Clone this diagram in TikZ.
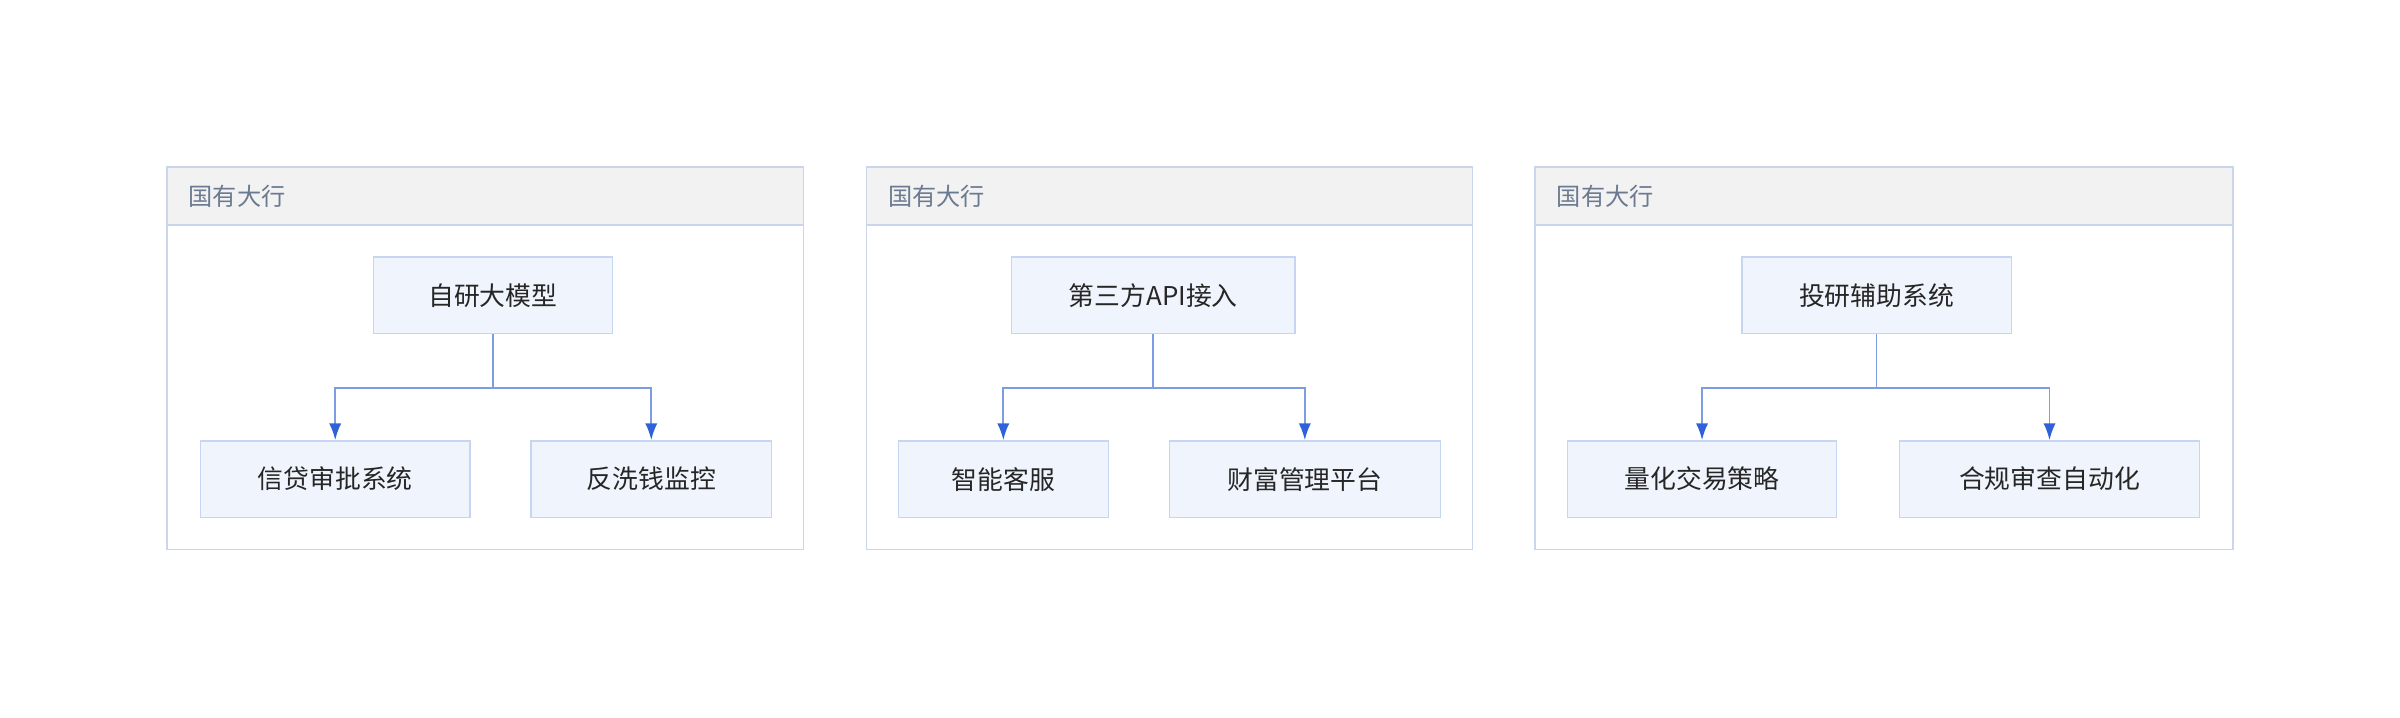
\documentclass[tikz,border=0pt]{standalone}
\usepackage{fontspec}
\setmainfont{Noto Sans CJK SC}
\usetikzlibrary{arrows.meta}
\definecolor{nodefill}{HTML}{F0F5FD}
\definecolor{nodeline}{HTML}{C6D6F2}
\definecolor{frameline}{HTML}{C9D6EC}
\definecolor{headfill}{HTML}{F2F2F2}
\definecolor{linkcol}{HTML}{7C9DE2}
\definecolor{tipcol}{HTML}{2F62D8}
\definecolor{headtext}{HTML}{6B7A90}
\begin{document}
\begin{tikzpicture}[
  x=0.2mm,y=-0.2mm,
  box/.style={rectangle,draw=nodeline,fill=nodefill,line width=0.5pt,minimum height=10mm,inner sep=0pt,font=\fontsize{9.6}{11}\selectfont,text=black!85},
  frame/.style={draw=frameline,line width=0.6pt},
  head/.style={draw=frameline,fill=headfill,line width=0.6pt},
  title/.style={anchor=west,font=\fontsize{9}{11}\selectfont,text=headtext},
  link/.style={draw=linkcol,line width=0.7pt,-{Latex[length=2.2mm,width=1.6mm,color=tipcol]}}
]
\useasboundingbox (0,0) rectangle (1568,469);
% panel 1
\draw[frame] (109,109) rectangle (525,359);
\draw[head] (109,109) rectangle (525,147);
\node[title] (h1) at (117,128) {国有大行};
\node[box,minimum width=31.2mm] (top1) at (322,193) {自研大模型};
\node[box,minimum width=35.2mm] (credit) at (219,313) {信贷审批系统};
\node[box,minimum width=31.4mm] (aml) at (425.5,313) {反洗钱监控};
\draw[link] (top1.south) -- ++(0,35) -| (credit.north);
\draw[link] (top1.south) -- ++(0,35) -| (aml.north);
% panel 2
\draw[frame] (566,109) rectangle (962,359);
\draw[head] (566,109) rectangle (962,147);
\node[title] (h2) at (574,128) {国有大行};
\node[box,minimum width=37mm] (top2) at (753.5,193) {第三方API接入};
\node[box,minimum width=27.4mm] (service) at (655.5,313) {智能客服};
\node[box,minimum width=35.4mm] (wealth) at (852.5,313) {财富管理平台};
\draw[link] (top2.south) -- ++(0,35) -| (service.north);
\draw[link] (top2.south) -- ++(0,35) -| (wealth.north);
% panel 3
\draw[frame] (1003,109) rectangle (1459,359);
\draw[head] (1003,109) rectangle (1459,147);
\node[title] (h3) at (1011,128) {国有大行};
\node[box,minimum width=35.2mm] (top3) at (1226,193) {投研辅助系统};
\node[box,minimum width=35.2mm] (quant) at (1112,313) {量化交易策略};
\node[box,minimum width=39.2mm] (comply) at (1339,313) {合规审查自动化};
\draw[link] (top3.south) -- ++(0,35) -| (quant.north);
\draw[link] (top3.south) -- ++(0,35) -| (comply.north);
\end{tikzpicture}
\end{document}
